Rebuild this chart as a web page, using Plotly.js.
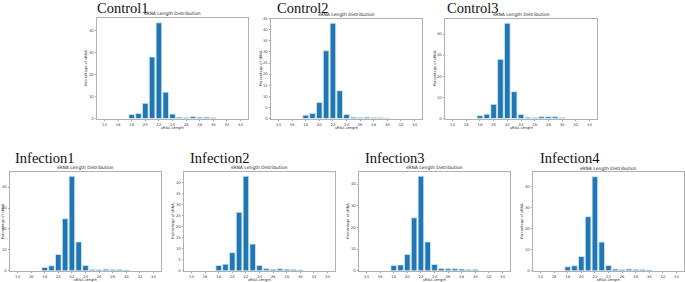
<!DOCTYPE html>
<html>
<head>
<meta charset="utf-8">
<script src="https://cdn.plot.ly/plotly-3.0.1.min.js"></script>
<style>html,body{margin:0;padding:0;background:#fff;}#chart{width:685px;height:282px;}</style>
</head>
<body>
<div id="chart"></div>
<script>
// sRNA lengths (nt)
const lengths = [18, 19, 20, 21, 22, 23, 24, 25, 26, 27, 28, 29, 30];
// Percentage of sRNA per length for each sample
const control1   = [1.8, 2.3, 6.9, 28.0, 43.6, 12.0, 2.0, 0.6, 0.5, 0.8, 0.6, 0.6, 0.3];
const control2   = [1.5, 2.3, 7.2, 30.5, 42.9, 12.5, 1.8, 0.6, 0.5, 0.6, 0.5, 0.3, 0.2];
const control3   = [1.3, 2.0, 6.7, 28.0, 45.1, 12.7, 1.9, 0.6, 0.5, 0.8, 0.8, 0.8, 0.3];
const infection1 = [1.6, 2.4, 7.8, 24.9, 45.2, 13.8, 2.5, 0.6, 0.5, 0.8, 0.6, 0.6, 0.4];
const infection2 = [2.4, 3.0, 8.2, 26.5, 42.8, 12.1, 2.4, 0.9, 0.7, 0.9, 0.7, 0.6, 0.4];
const infection3 = [2.4, 2.7, 7.5, 24.4, 43.6, 13.3, 2.9, 1.1, 0.9, 0.9, 0.8, 0.6, 0.6];
const infection4 = [1.9, 2.4, 6.8, 25.8, 44.9, 13.7, 2.5, 0.8, 0.6, 0.8, 0.6, 0.6, 0.4];
const sampleNames = ['Control1', 'Control2', 'Control3', 'Infection1', 'Infection2', 'Infection3', 'Infection4'];
const sampleValues = [control1, control2, control3, infection1, infection2, infection3, infection4];
const yTickStep = [10, 5, 10, 10, 5, 10, 10];
const xTickVals = [14, 16, 18, 20, 22, 24, 26, 28, 30, 32, 34];
const subTitle = 'sRNA Length Distribution';
const xLabel = 'sRNA Length';
const yLabel = 'Percentage of sRNA';

// layout geometry in pixels: left, right, top, bottom of plot box; big-title left x and bottom y
const W = 685, H = 282;
const boxes = [
  [97, 248, 18, 118.5, 96, 16.5],
  [271, 422, 18.5, 118.5, 276, 16.5],
  [445, 597, 18.5, 118.5, 446, 16.5],
  [10, 161, 171.5, 270.8, 14, 166.5],
  [184, 335, 171.5, 270.8, 189, 166.5],
  [359, 510, 171.5, 270.8, 364, 166.5],
  [533, 684, 172, 270.8, 539, 166.5]
];

const traces = [];
const layout = {
  width: W, height: H,
  margin: {l: 0, r: 0, t: 0, b: 0},
  paper_bgcolor: '#fff', plot_bgcolor: '#fff',
  showlegend: false,
  annotations: [],
  font: {family: 'DejaVu Sans', color: '#333'}
};

const px = x => x / W;
const py = y => 1 - y / H;

sampleNames.forEach((name, i) => {
  const n = i + 1;
  const xa = n === 1 ? 'x' : 'x' + n;
  const ya = n === 1 ? 'y' : 'y' + n;
  const vals = sampleValues[i];
  traces.push({
    type: 'bar', x: lengths, y: vals, xaxis: xa, yaxis: ya,
    width: 0.82,
    marker: {color: '#1f77b4', line: {color: '#d6e6f2', width: 0.8}},
    hoverinfo: 'x+y'
  });
  const [l, r, t, b, tx, ty] = boxes[i];
  const ymax = Math.max(...vals) * 1.05;
  const yt = [];
  for (let v = 0; v <= ymax; v += yTickStep[i]) yt.push(v);
  const axCommon = {
    showline: true, mirror: true, linecolor: '#b0b0b0', linewidth: 1,
    showgrid: false, zeroline: false, ticks: 'outside', ticklen: 1.5,
    tickwidth: 0.6, tickcolor: '#666',
    tickfont: {size: 3.8, color: '#444', family: 'DejaVu Sans'},
    fixedrange: true
  };
  layout['xaxis' + (n === 1 ? '' : n)] = Object.assign({}, axCommon, {
    domain: [px(l), px(r)], anchor: ya, range: [12.9, 35.1],
    tickmode: 'array', tickvals: xTickVals
  });
  layout['yaxis' + (n === 1 ? '' : n)] = Object.assign({}, axCommon, {
    domain: [py(b), py(t)], anchor: xa, range: [0, ymax],
    tickmode: 'array', tickvals: yt
  });
  // big sample title
  layout.annotations.push({
    text: name, xref: 'paper', yref: 'paper', x: px(tx), y: py(ty),
    xanchor: 'left', yanchor: 'bottom', showarrow: false, borderpad: 0,
    font: {family: 'Liberation Serif', size: 14.5, color: '#111'}
  });
  // small plot title
  layout.annotations.push({
    text: subTitle, xref: 'paper', yref: 'paper', x: px((l + r) / 2), y: py(t - 0.5),
    xanchor: 'center', yanchor: 'bottom', showarrow: false, borderpad: 0,
    font: {family: 'DejaVu Sans', size: 4.5, color: '#222'}
  });
  // x label
  layout.annotations.push({
    text: xLabel, xref: 'paper', yref: 'paper', x: px((l + r) / 2), y: py(b + 9.2),
    xanchor: 'center', yanchor: 'middle', showarrow: false, borderpad: 0,
    font: {family: 'DejaVu Sans', size: 3.6, color: '#333'}
  });
  // y label
  layout.annotations.push({
    text: yLabel, xref: 'paper', yref: 'paper', x: px(Math.max(l - 10.5, 3)), y: py((t + b) / 2),
    xanchor: 'center', yanchor: 'middle', showarrow: false, textangle: -90, borderpad: 0,
    font: {family: 'DejaVu Sans', size: 3.6, color: '#333'}
  });
});

Plotly.newPlot('chart', traces, layout, {displayModeBar: false, staticPlot: true});
</script>
</body>
</html>
